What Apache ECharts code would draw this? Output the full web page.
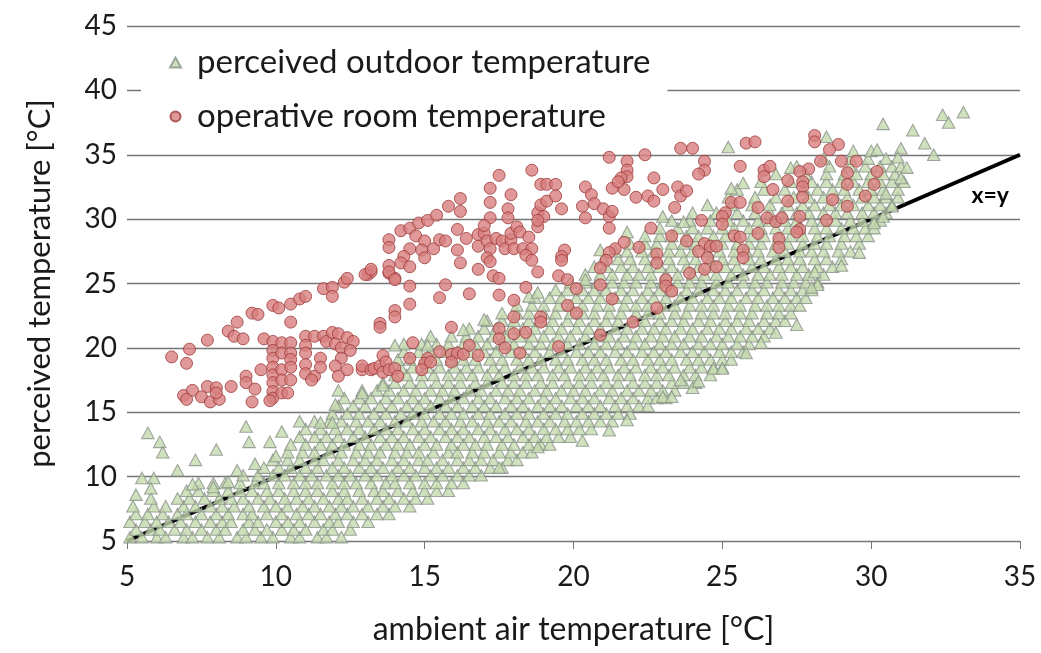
<!DOCTYPE html>
<html>
<head>
<meta charset="utf-8">
<script src="https://cdn.jsdelivr.net/npm/echarts@6/dist/echarts.min.js"></script>
<style>
  html, body { margin: 0; padding: 0; background: #ffffff; }
  #chart { width: 1041px; height: 653px; }
</style>
</head>
<body>
<div id="chart"></div>
<script>
// Series names and axis titles
const seriesNames = ['perceived outdoor temperature', 'operative room temperature'];
const xAxisTitle = 'ambient air temperature [°C]';
const yAxisTitle = 'perceived temperature [°C]';
const identityLabel = 'x=y';

// Axis scales: [min, max, step]
const xScale = [5, 35, 5];
const yScale = [5, 45, 5];

// Reference line x = y
const identityLine = [[5, 5], [35, 35]];

// Perceived outdoor temperature, stored as rows: [perceived temperature, [ambient temperatures]]
const outdoorRowsLow = [
  [5.3, [5.1,5.5,6.0,6.3,6.9,7.2,7.7,8.1,8.7,9.0,9.5,9.9,10.5,10.8,11.4,11.7,12.2]],
  [5.9, [5.3,5.8,6.1,6.6,7.0,7.5,8.0,8.3,8.9,9.3,9.7,10.2,10.6,11.0,11.6,11.9,12.5]],
  [6.5, [5.1,5.6,6.0,6.4,6.8,7.3,7.8,8.2,8.5,9.1,9.4,10.0,10.4,10.8,11.3,11.8,12.1,12.6,13.1]],
  [7.1, [5.3,5.7,6.2,6.7,7.0,7.5,8.0,8.4,8.9,9.2,9.7,10.2,10.7,11.1,11.5,12.0,12.4,12.9,13.4,13.8]],
  [7.7, [5.2,5.9,6.3,6.9,7.3,7.8,8.2,8.6,9.1,9.6,10.0,10.4,10.9,11.3,11.8,12.2,12.6,13.1,13.6,14.0,14.5]],
  [8.3, [5.8,6.7,7.1,7.6,8.1,8.5,8.9,9.4,9.8,10.3,10.7,11.1,11.6,12.1,12.4,12.9,13.4,13.8,14.3,14.7,15.1]],
  [8.9, [7.0,7.4,7.9,8.4,8.8,9.2,9.7,10.1,10.6,11.0,11.4,11.9,12.3,12.8,13.3,13.6,14.1,14.6,15.0,15.4,15.8]],
  [9.5, [7.4,7.9,8.3,8.8,9.3,9.6,10.1,10.6,11.0,11.4,11.9,12.3,12.7,13.2,13.7,14.0,14.5,15.0,15.4,15.9,16.3]]
];

const outdoorRowsMid = [
  [10.1, [8.9,9.4,9.9,10.3,10.8,11.2,11.7,12.1,12.5,13.0,13.4,13.9,14.3,14.7,15.2,15.6,16.1,16.5,16.9]],
  [10.7, [9.6,10.1,10.5,11.0,11.4,11.9,12.3,12.8,13.2,13.6,14.1,14.5,15.0,15.4,15.8,16.3,16.7,17.2,17.6]],
  [11.3, [9.9,10.4,10.8,11.3,11.6,12.1,12.6,13.0,13.4,13.9,14.3,14.8,15.1,15.6,16.1,16.5,16.9,17.3,17.8,18.1]],
  [11.9, [10.4,10.9,11.3,11.8,12.2,12.7,13.1,13.5,14.0,14.4,14.8,15.3,15.8,16.1,16.6,17.0,17.5,17.9,18.3,18.6]],
  [12.5, [10.5,11.0,11.5,11.9,12.3,12.8,13.2,13.7,14.1,14.5,15.0,15.4,15.9,16.3,16.7,17.1,17.6,18.0,18.5,18.9,19.2]],
  [13.1, [10.8,11.3,11.7,12.1,12.6,13.0,13.5,13.9,14.3,14.8,15.2,15.7,16.1,16.5,17.0,17.4,17.8,18.3,18.7,19.1,19.5,19.9]],
  [13.7, [11.0,11.5,12.0,12.4,12.8,13.3,13.7,14.1,14.6,15.0,15.5,15.9,16.3,16.8,17.2,17.7,18.1,18.5,19.0,19.4,19.8,20.2,20.6]],
  [14.3, [11.3,11.8,12.2,12.7,13.1,13.5,14.0,14.4,14.9,15.3,15.7,16.2,16.6,17.1,17.5,17.9,18.4,18.8,19.2,19.7,20.1,20.5,20.9,21.3]],
  [14.9, [11.9,12.4,12.8,13.3,13.7,14.2,14.6,15.0,15.5,15.9,16.3,16.8,17.2,17.7,18.1,18.5,19.0,19.4,19.8,20.3,20.7,21.1,21.5,21.9]],
  [15.5, [12.1,12.6,13.0,13.5,13.9,14.4,14.8,15.2,15.7,16.1,16.6,17.0,17.4,17.9,18.3,18.8,19.2,19.6,20.1,20.5,20.9,21.4,21.8,22.2,22.5]],
  [16.1, [12.3,12.8,13.2,13.7,14.1,14.6,15.0,15.5,15.9,16.3,16.8,17.2,17.7,18.1,18.5,19.0,19.4,19.9,20.3,20.7,21.2,21.6,22.0,22.5,22.8,23.1]],
  [16.7, [12.9,13.4,13.8,14.3,14.7,15.2,15.6,16.0,16.5,16.9,17.4,17.8,18.2,18.7,19.1,19.6,20.0,20.4,20.9,21.3,21.8,22.2,22.6,23.0,23.4]],
  [17.3, [13.6,14.0,14.5,14.9,15.4,15.8,16.2,16.7,17.1,17.6,18.0,18.4,18.9,19.3,19.8,20.2,20.6,21.1,21.5,22.0,22.4,22.8,23.3,23.7,24.1]],
  [17.9, [14.0,14.4,14.9,15.3,15.8,16.2,16.6,17.1,17.5,18.0,18.4,18.8,19.3,19.7,20.2,20.6,21.0,21.5,21.9,22.4,22.8,23.2,23.7,24.1,24.6]],
  [18.5, [14.2,14.6,15.1,15.5,16.0,16.4,16.8,17.3,17.7,18.2,18.6,19.0,19.5,19.9,20.4,20.8,21.2,21.7,22.1,22.6,23.0,23.4,23.9,24.3,24.7,25.0]],
  [19.1, [14.1,14.5,15.0,15.4,15.9,16.3,16.7,17.2,17.6,18.1,18.5,18.9,19.4,19.8,20.3,20.7,21.1,21.6,22.0,22.5,22.9,23.3,23.8,24.2,24.6,25.0,25.3]],
  [19.7, [14.3,14.8,15.2,15.7,16.1,16.5,17.0,17.4,17.9,18.3,18.7,19.2,19.6,20.1,20.5,20.9,21.4,21.8,22.3,22.7,23.1,23.6,24.0,24.4,24.9,25.3,25.7]]
];

const outdoorRowsHigh = [
  [20.3, [14.3,14.9,15.4,15.8,16.3,16.7,17.1,17.6,18.0,18.5,18.9,19.3,19.8,20.2,20.7,21.1,21.5,22.0,22.4,22.9,23.3,23.7,24.2,24.6,25.0,25.5,25.9]],
  [20.9, [15.2,15.9,16.4,16.8,17.3,17.7,18.2,18.6,19.0,19.5,19.9,20.4,20.8,21.2,21.7,22.1,22.6,23.0,23.4,23.9,24.3,24.8,25.2,25.6,26.0,26.4]],
  [21.5, [16.5,17.0,17.4,17.9,18.3,18.7,19.2,19.6,20.1,20.5,20.9,21.4,21.8,22.3,22.7,23.1,23.6,24.0,24.5,24.9,25.3,25.8,26.2,26.6]],
  [22.1, [17.1,17.6,18.0,18.5,18.9,19.3,19.8,20.2,20.7,21.1,21.5,22.0,22.4,22.9,23.3,23.7,24.2,24.6,25.1,25.5,25.9,26.4,26.8,27.1]],
  [22.7, [17.6,18.1,18.5,19.0,19.4,19.9,20.3,20.7,21.2,21.6,22.1,22.5,22.9,23.4,23.8,24.3,24.7,25.1,25.6,26.0,26.5,26.9,27.3]],
  [23.3, [18.1,18.6,19.0,19.5,19.9,20.3,20.8,21.2,21.7,22.1,22.5,23.0,23.4,23.9,24.3,24.7,25.2,25.6,26.1,26.5,26.9,27.3,27.6]],
  [23.9, [18.7,19.2,19.6,20.1,20.5,20.9,21.4,21.8,22.3,22.7,23.1,23.6,24.0,24.5,24.9,25.3,25.8,26.2,26.7,27.1,27.5,27.8]],
  [24.5, [19.4,19.8,20.3,20.7,21.1,21.6,22.0,22.5,22.9,23.3,23.8,24.2,24.7,25.1,25.5,26.0,26.4,26.9,27.3,27.7,28.0]],
  [25.1, [19.9,20.4,20.8,21.3,21.7,22.1,22.6,23.0,23.5,23.9,24.3,24.8,25.2,25.7,26.1,26.5,27.0,27.4,27.8,28.2]],
  [25.7, [20.4,20.9,21.3,21.8,22.2,22.6,23.1,23.5,24.0,24.4,24.8,25.3,25.7,26.2,26.6,27.0,27.5,27.9,28.4]],
  [26.3, [20.7,21.1,21.6,22.0,22.5,22.9,23.3,23.8,24.2,24.7,25.1,25.5,26.0,26.4,26.9,27.3,27.7,28.2,28.7]],
  [26.9, [21.0,21.5,21.9,22.4,22.8,23.2,23.7,24.1,24.6,25.0,25.4,25.9,26.3,26.8,27.2,27.6,28.1,28.5,29.0]],
  [27.5, [21.4,21.8,22.3,22.7,23.2,23.6,24.0,24.5,24.9,25.4,25.8,26.2,26.7,27.1,27.6,28.0,28.4,28.9,29.3]],
  [28.1, [21.9,22.4,22.8,23.3,23.7,24.1,24.6,25.0,25.5,25.9,26.3,26.8,27.2,27.7,28.1,28.5,29.0,29.6]],
  [28.7, [22.4,22.9,23.3,23.8,24.2,24.7,25.1,25.5,26.0,26.4,26.9,27.3,27.7,28.2,28.6,29.1,29.5,29.9]],
  [29.3, [22.9,23.5,24.0,24.5,25.0,25.4,25.9,26.3,26.8,27.2,27.6,28.1,28.5,29.0,29.4,29.8,30.1]],
  [29.9, [23.3,23.9,24.6,25.2,25.7,26.2,26.6,27.1,27.5,28.0,28.4,28.8,29.3,29.7,30.1,30.3]]
];

const outdoorRowsTop = [
  [30.5, [24.0,24.8,25.5,26.1,26.6,27.0,27.5,27.9,28.4,28.8,29.2,29.7,30.1,30.5]],
  [31.1, [24.5,25.3,26.0,26.6,27.2,27.7,28.1,28.6,29.0,29.4,29.9,30.3,30.7]],
  [31.7, [25.2,26.1,26.8,27.4,27.9,28.4,28.8,29.2,29.7,30.1,30.5,30.9]],
  [32.3, [25.5,26.4,27.1,27.7,28.2,28.7,29.1,29.6,30.0,30.4,30.9]],
  [32.9, [26.3,27.3,28.0,28.5,29.0,29.4,29.9,30.3,30.7,31.1]],
  [33.5, [26.8,27.8,28.5,29.1,29.5,30.0,30.4,30.8]],
  [34.1, [27.5,28.6,29.3,29.8,30.3,30.7,31.0]],
  [34.7, [28.4,29.3,29.9,30.5]],
  [35.3, [29.4,30.0]]
];

// Scattered outdoor readings around the edges of the main cloud: [ambient, perceived]
const outdoorSparse = [
  [5.7,13.4],[6.1,12.7],[6.2,11.9],[7.3,11.3],[8.0,12.1],[6.7,10.5],[9.0,13.9],[9.1,12.7],
  [8.7,10.5],[5.5,9.9],[5.9,9.9],[5.8,9.1],[5.3,8.6],[10.2,13.5],[9.8,12.7],[7.2,9.4],
  [7.9,9.2],[8.4,9.6],[10.0,11.6],[9.3,11.0],[10.8,14.3],[11.5,14.2],[11.9,14.2],[12.0,15.6],
  [12.1,16.7],[12.9,16.5],[13.6,17.1],[14.0,20.2],[15.1,20.2],[16.3,21.4],[17.0,22.2],[18.5,24.0],
  [18.8,24.3],[20.4,25.3],[20.9,27.6],[21.8,29.0],[23.0,30.2],[23.7,29.8],[25.2,35.6],[25.3,32.4],
  [25.7,32.8],[27.3,34.0],[28.5,36.4],[30.4,37.4],[31.4,36.9],[31.8,35.9],[32.1,35.0],[31.0,35.5],
  [32.4,38.1],[33.1,38.3],[32.6,37.5],[30.2,35.4],[30.9,34.8],[31.2,34.0],[31.0,33.2],
  [24.0,16.9],[24.2,17.4],[23.6,17.5],[24.7,18.4],[25.0,18.4],[25.8,19.6],[26.3,20.4],[26.8,21.2],
  [27.5,21.8],[28.2,24.9],[28.0,24.7],[28.1,25.9],[29.0,26.4],[29.6,27.4],[30.1,29.7],[30.4,30.2],
  [30.7,31.0],[30.5,32.0],[23.0,16.2],[23.3,16.2],[21.8,14.4],[21.2,13.6],[20.3,12.8],[18.8,12.3],
  [17.5,10.7]
];

// Operative room temperature: [ambient, operative]
const roomCool = [
  [6.5,19.3],[7.1,19.9],[7.0,18.8],[7.7,20.6],[6.9,16.3],[7.2,16.7],[7.0,16.0],[7.5,16.2],
  [7.7,17.0],[8.0,16.9],[7.8,15.8],[8.1,16.0],[8.0,16.5],[8.5,17.0],[9.0,17.8],[9.0,17.3],
  [9.3,16.8],[9.2,15.8],[9.5,18.3],[8.4,21.3],[8.7,22.0],[8.6,20.9],[8.9,20.7],[9.2,22.7],
  [9.4,22.6],[9.6,20.7],[9.9,23.3],[10.1,23.1],[10.5,23.4],[10.5,22.0],[10.8,23.8],[11.0,24.0],
  [11.6,24.6],[11.9,24.7],[11.9,24.0],[12.3,25.1],[12.4,25.4],[13.1,25.7],[13.2,25.9],[13.8,25.8],
  [14.0,25.4],
  [9.9,20.5],[9.9,19.8],[9.9,19.2],[9.9,18.5],[9.9,17.9],[9.9,17.3],[9.9,16.6],[9.9,16.1],
  [9.8,15.9],[10.2,20.4],[10.2,19.6],[10.2,18.3],[10.2,17.5],[10.2,16.5],[10.5,20.4],[10.5,19.6],
  [10.5,19.1],[10.5,18.5],[10.5,17.5],[10.4,16.5],[11.0,20.9],[11.0,20.2],[11.0,19.6],[11.0,18.7],
  [11.0,18.0],[11.3,20.9],[11.3,17.8],[11.2,17.5],[11.5,19.2],[11.5,18.5],[11.6,20.9],[11.7,20.5],
  [11.9,21.2],[12.1,21.1],[12.4,20.8],[12.6,20.5],[12.0,20.3],[12.2,20.0],[12.5,19.8],[12.2,19.2],
  [12.0,18.6],[12.4,18.3],[12.1,17.8],[12.9,18.3],[12.9,18.6],[13.2,18.3],[13.3,18.4],[13.5,18.6],
  [13.6,19.4],[13.7,18.9],[13.6,18.1],[13.8,18.3],[14.0,18.4],[14.1,17.8]
];

const roomMild = [
  [13.5,21.9],[13.5,21.6],[14.0,22.9],[14.0,22.4],[14.5,24.8],[14.5,23.4],[14.6,20.4],[14.5,19.2],
  [15.5,19.7],[15.1,19.2],[15.0,18.8],[15.2,18.9],[14.9,18.3],[15.9,19.5],[16.1,19.6],[16.3,19.5],
  [16.5,20.2],[16.8,19.4],[15.9,18.9],[15.9,21.6],[15.7,24.9],[15.5,23.9],[16.5,24.2],[17.5,24.1],
  [18.4,24.7],[18.0,23.7],[18.0,22.4],[17.5,21.5],[17.5,20.7],[18.0,21.1],[18.4,21.2],[18.9,22.4],
  [18.9,22.0],[19.8,23.3],[20.1,22.7],[17.7,20.0],[18.2,19.6],[19.5,20.1],[16.8,26.1],[17.3,25.6],
  [17.5,25.4],[18.8,25.9],[19.5,25.6],[19.8,25.3],[20.1,24.6],[20.9,21.0],[22.0,22.0],[22.8,23.1],
  [21.3,23.8],[20.9,24.9],[23.1,25.3],[23.1,24.8],[23.3,24.4]
];

const roomWarm = [
  [13.8,28.4],[13.8,27.8],[14.5,27.7],[14.3,27.1],[14.2,26.6],[14.5,26.3],[13.8,26.4],[13.8,25.9],
  [14.0,25.3],[13.0,25.7],[13.2,26.1],[14.2,29.1],[14.5,29.3],[14.8,29.7],[15.1,29.9],[15.4,30.3],
  [15.8,31.0],[16.2,31.6],[16.2,30.6],[14.7,28.7],[15.0,28.3],[14.9,27.6],[15.0,27.0],[15.3,27.7],
  [15.5,28.4],[15.7,28.3],[16.1,29.2],[16.4,28.5],[16.1,27.6],[16.2,26.6],[16.8,28.8],[16.8,27.9],
  [17.0,28.9],[17.1,28.3],[17.2,27.7],[17.1,27.0],[17.2,26.7],[17.4,28.5],[17.2,30.1],[17.0,29.5],
  [17.2,31.3],[17.2,32.4],[17.5,33.4],[17.9,31.9],[17.6,28.3],[17.7,27.7],[17.9,28.4],[18.0,27.7],
  [17.9,28.9],[18.1,29.4],[17.8,30.8],[17.8,30.1],[18.2,29.0],[18.3,27.7],[18.5,28.6],[18.6,27.7],
  [18.4,27.2],[18.6,26.8],[18.8,29.4],[18.8,30.5],[18.9,31.1],[19.0,30.2],[19.1,31.4],[18.8,29.9],
  [18.6,33.8],[18.9,32.7],[19.1,32.7],[19.4,32.7],[19.4,31.8],[19.6,30.8],[19.7,27.6],[19.6,27.1],
  [19.6,26.8],[20.3,31.0],[20.4,30.1]
];

const roomHot = [
  [20.4,32.5],[20.6,31.9],[20.7,31.2],[21.0,30.8],[21.2,30.2],[21.3,30.6],[21.2,29.3],[21.3,32.4],
  [21.7,32.3],[22.1,31.7],[22.5,31.8],[22.7,31.4],[22.7,33.2],[23.0,32.3],[23.5,32.5],[23.6,31.8],
  [23.8,32.2],[23.4,30.9],[22.6,29.3],[21.2,34.8],[21.8,34.5],[21.8,33.8],[21.8,33.3],[21.6,33.2],
  [21.5,32.9],[22.4,35.0],[23.6,35.5],[24.0,35.5],[24.4,34.5],[24.4,33.8],[24.2,33.5],[25.8,35.9],
  [26.1,36.0],[25.6,34.1],[26.4,33.8],[26.6,34.1],[26.4,33.3],[27.2,33.0],[26.7,32.3],[27.2,31.4],
  [26.2,30.9],[25.3,31.3],[25.6,31.3],[25.1,30.5],[25.0,30.2],[25.0,29.6],[24.3,29.9],[26.5,30.1],
  [26.8,29.8],[27.0,30.1],[26.2,28.9],[25.4,28.7],[25.6,28.6],[26.9,28.5],[26.9,27.8],[25.7,27.6],
  [25.7,27.0],[24.4,28.1],[24.6,27.9],[24.8,27.9],[24.2,27.5],[24.5,27.0],[24.8,26.3],[24.4,26.1],
  [23.9,25.8],[23.3,28.7],[23.8,28.3],[22.8,27.3],[22.8,26.6],[22.2,27.8],[21.7,28.2],[21.4,27.7],
  [21.2,27.4],[21.1,26.8],[20.9,26.2],
  [28.1,36.5],[28.1,36.0],[28.9,35.8],[28.6,35.4],[28.3,34.5],[29.0,34.5],[29.5,34.5],[30.2,33.7],
  [29.2,33.6],[27.9,33.9],[27.6,33.7],[27.7,32.9],[27.7,32.5],[27.7,31.7],[29.2,32.7],[30.1,32.7],
  [29.8,31.8],[28.7,31.5],[29.2,31.0],[27.6,30.2],[28.5,29.9],[27.6,29.2],[27.5,29.0]
];

// Flatten the row tables into [x, y] points
function rowsToPoints(rows) {
  const pts = [];
  rows.forEach(([y, xs]) => xs.forEach(x => pts.push([x, y])));
  return pts;
}

const outdoorPoints = []
  .concat(rowsToPoints(outdoorRowsLow))
  .concat(rowsToPoints(outdoorRowsMid))
  .concat(rowsToPoints(outdoorRowsHigh))
  .concat(rowsToPoints(outdoorRowsTop))
  .concat(outdoorSparse);

const roomPoints = [].concat(roomCool, roomMild, roomWarm, roomHot);

const FONT = 'Lato, "Open Sans", sans-serif';
const TEXT = '#1a1a1a';
const GRID = '#767676';

const chart = echarts.init(document.getElementById('chart'), null, { renderer: 'canvas' });

chart.setOption({
  animation: false,
  backgroundColor: '#ffffff',
  grid: { left: 127, right: 21, top: 26, bottom: 112, containLabel: false },
  legend: {
    orient: 'vertical',
    left: 141,
    top: 38,
    padding: [8, 17, 8, 28],
    backgroundColor: '#ffffff',
    itemWidth: 11,
    itemHeight: 10,
    itemGap: 21,
    selectedMode: false,
    formatter: name => '{t|' + name + '}',
    textStyle: {
      fontFamily: FONT, fontSize: 33, color: TEXT,
      rich: { t: { fontFamily: FONT, fontSize: 33, color: TEXT, padding: [0, 0, 0, 11] } }
    },
    data: seriesNames
  },
  xAxis: {
    type: 'value',
    min: xScale[0], max: xScale[1], interval: xScale[2],
    name: xAxisTitle,
    nameLocation: 'middle',
    nameGap: 73,
    nameTextStyle: { fontFamily: FONT, fontSize: 32, color: TEXT },
    axisLine: { show: true, lineStyle: { color: GRID, width: 1.2 } },
    axisTick: { show: true, length: 8, lineStyle: { color: GRID } },
    axisLabel: { margin: 22, fontFamily: FONT, fontSize: 28, color: TEXT },
    splitLine: { show: false }
  },
  yAxis: {
    type: 'value',
    min: yScale[0], max: yScale[1], interval: yScale[2],
    name: yAxisTitle,
    nameLocation: 'middle',
    nameGap: 72,
    nameTextStyle: { fontFamily: FONT, fontSize: 31, color: TEXT },
    axisLine: { show: false },
    axisTick: { show: false },
    axisLabel: { margin: 10, fontFamily: FONT, fontSize: 28, color: TEXT },
    splitLine: { show: true, lineStyle: { color: GRID, width: 1.3 } }
  },
  series: [
    {
      type: 'line',
      data: identityLine,
      symbol: 'none',
      silent: true,
      z: 1,
      lineStyle: { color: '#000000', width: 4 },
      markPoint: {
        symbol: 'rect',
        symbolSize: 1,
        itemStyle: { color: 'rgba(0,0,0,0)' },
        label: {
          show: true,
          formatter: identityLabel,
          fontFamily: FONT,
          fontWeight: 'bold',
          fontSize: 23,
          color: '#000000'
        },
        data: [{ coord: [34.0, 31.8] }]
      }
    },
    {
      name: seriesNames[0],
      type: 'scatter',
      z: 2,
      data: outdoorPoints,
      symbol: 'triangle',
      symbolSize: [12.5, 11.5],
      itemStyle: { color: '#c4d9ae', borderColor: '#88928a', borderWidth: 1.1 }
    },
    {
      name: seriesNames[1],
      type: 'scatter',
      z: 3,
      data: roomPoints,
      symbol: 'circle',
      symbolSize: 12,
      itemStyle: { color: '#d87e7e', borderColor: '#9c3a3a', borderWidth: 1 }
    }
  ]
});
</script>
</body>
</html>
